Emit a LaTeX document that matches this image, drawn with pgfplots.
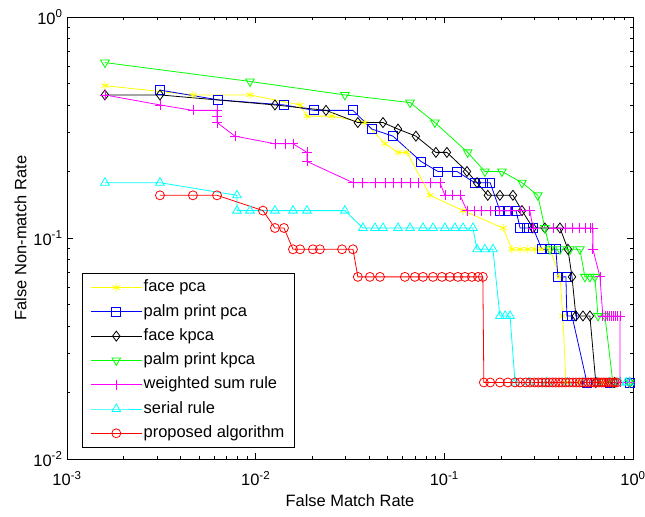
\documentclass[border=0pt]{standalone}
\usepackage{fontspec}
\setmainfont{Liberation Sans}
\usepackage{pgfplots}
\pgfplotsset{compat=1.18}

\definecolor{myyellow}{rgb}{1,1,0}
\definecolor{myblue}{rgb}{0,0,1}
\definecolor{mygreen}{rgb}{0,1,0}
\definecolor{mymagenta}{rgb}{1,0,1}
\definecolor{mycyan}{rgb}{0,1,1}
\definecolor{myred}{rgb}{1,0,0}

\begin{document}
\begin{tikzpicture}
\begin{axis}[
  scale only axis,
  width=566bp, height=442bp,
  xmode=log, ymode=log,
  xmin=1e-3, xmax=1, ymin=1e-2, ymax=1,
  xtick={1e-3,1e-2,1e-1,1},
  xticklabels={10\textsuperscript{-3},10\textsuperscript{-2},10\textsuperscript{-1},10\textsuperscript{0}},
  ytick={1e-2,1e-1,1},
  yticklabels={10\textsuperscript{-2},10\textsuperscript{-1},10\textsuperscript{0}},
  minor xtick={2e-3,3e-3,4e-3,5e-3,6e-3,7e-3,8e-3,9e-3,2e-2,3e-2,4e-2,5e-2,6e-2,7e-2,8e-2,9e-2,0.2,0.3,0.4,0.5,0.6,0.7,0.8,0.9},
  minor ytick={2e-2,3e-2,4e-2,5e-2,6e-2,7e-2,8e-2,9e-2,0.2,0.3,0.4,0.5,0.6,0.7,0.8,0.9},
  tick align=inside,
  major tick length=6bp, minor tick length=3.5bp,
  every tick/.style={black, line width=0.6bp},
  axis line style={black, line width=0.8bp},
  tick label style={font=\fontsize{16.5}{19}\selectfont},
  xticklabel style={yshift=-9bp},
  yticklabel style={xshift=-1bp},
  label style={font=\fontsize{16.5}{19}\selectfont},
  xlabel={False Match Rate},
  xlabel style={yshift=-2bp},
  ylabel={False Non-match Rate},
  ylabel style={yshift=0bp},
  every axis plot/.append style={line width=0.8bp, mark options={solid, line width=0.8bp, fill=none}},
  legend image code/.code={\draw[mark repeat=2,mark phase=2] plot coordinates {(0bp,0bp) (25.5bp,0bp) (51bp,0bp)};},
  legend style={at={(0.0265,0.025)}, anchor=south west, draw=black, line width=0.8bp,
    font=\fontsize{16.5}{19}\selectfont, row sep=5.8bp, inner xsep=8bp, inner ysep=5bp,
    nodes={inner sep=1.5bp, text height=12bp, text depth=3.5bp}},
  legend cell align=left,
]
% face pca
\addplot[color=myyellow, mark=asterisk, mark size=4bp] coordinates {
(0.00159,0.489)(0.00465,0.444)(0.00933,0.444)(0.0172,0.4)(0.0187,0.356)(0.0254,0.356)
(0.0380,0.333)(0.0485,0.267)(0.0568,0.244)(0.0634,0.244)(0.0840,0.156)(0.1256,0.133)
(0.205,0.111)(0.228,0.0889)(0.252,0.0889)(0.277,0.0889)(0.302,0.0889)(0.329,0.0889)
(0.363,0.0889)(0.410,0.0667)(0.425,0.0444)(0.441,0.0222)(0.523,0.0222)(0.70,0.0222)(0.96,0.0222)};
\addlegendentry{face pca}
% palm print pca
\addplot[color=myblue, mark=square, mark size=4.5bp] coordinates {
(0.00311,0.467)(0.00631,0.422)(0.01413,0.4)(0.0204,0.378)(0.0328,0.378)(0.0413,0.311)
(0.0534,0.289)(0.0752,0.222)(0.0925,0.2)(0.1167,0.2)(0.145,0.178)(0.160,0.178)(0.175,0.178)
(0.197,0.133)(0.217,0.133)(0.240,0.133)(0.252,0.111)(0.274,0.111)(0.295,0.111)
(0.329,0.0889)(0.363,0.0889)(0.390,0.0889)(0.400,0.0667)(0.441,0.0667)(0.446,0.0444)
(0.475,0.0444)(0.570,0.0222)(0.75,0.0222)(0.96,0.0222)};
\addlegendentry{palm print pca}
% face kpca
\addplot[color=black, mark=diamond, mark size=5bp] coordinates {
(0.00159,0.444)(0.00311,0.444)(0.01265,0.4)(0.0236,0.378)(0.0348,0.333)(0.0473,0.333)
(0.0568,0.311)(0.0707,0.289)(0.0902,0.244)(0.1032,0.244)(0.1318,0.2)(0.149,0.178)
(0.170,0.156)(0.197,0.156)(0.231,0.156)(0.258,0.133)(0.295,0.111)(0.341,0.111)(0.410,0.111)
(0.452,0.0889)(0.475,0.0667)(0.498,0.0444)(0.543,0.0444)(0.591,0.0444)(0.635,0.0222)
(0.80,0.0222)(0.96,0.0222)};
\addlegendentry{face kpca}
% palm print kpca
\addplot[color=mygreen, mark=triangle, mark size=5bp, mark options={rotate=180}] coordinates {
(0.00159,0.622)(0.00933,0.511)(0.0297,0.444)(0.0658,0.41)(0.0891,0.333)(0.133,0.244)
(0.164,0.2)(0.202,0.2)(0.258,0.178)(0.313,0.156)(0.341,0.111)(0.363,0.0889)(0.410,0.0889)
(0.463,0.0889)(0.523,0.0889)(0.556,0.0667)(0.591,0.0667)(0.628,0.0667)(0.652,0.0444)
(0.710,0.0444)(0.782,0.0222)(0.96,0.0222)};
\addlegendentry{palm print kpca}
% weighted sum rule
\addplot[color=mymagenta, mark=+, mark size=5bp] coordinates {
(0.00159,0.444)(0.00311,0.4)(0.00465,0.378)(0.00624,0.378)(0.00624,0.356)(0.00624,0.333)
(0.00777,0.289)(0.01265,0.267)(0.0143,0.267)(0.01577,0.267)(0.0187,0.244)(0.0187,0.222)
(0.0328,0.178)(0.0370,0.178)(0.0429,0.178)(0.0485,0.178)(0.0534,0.178)(0.0595,0.178)
(0.0658,0.178)(0.0727,0.178)(0.0840,0.178)(0.0948,0.178)(0.1007,0.156)(0.1097,0.156)
(0.121,0.156)(0.1318,0.133)(0.145,0.133)(0.158,0.133)(0.175,0.133)(0.197,0.133)(0.223,0.133)
(0.252,0.133)(0.284,0.133)(0.295,0.111)(0.38,0.111)(0.44,0.111)(0.48,0.111)(0.523,0.111)
(0.556,0.111)(0.591,0.111)(0.613,0.111)(0.613,0.0889)(0.668,0.0667)(0.692,0.0444)
(0.71,0.0444)(0.73,0.0444)(0.75,0.0444)(0.77,0.0444)(0.79,0.0444)(0.81,0.0444)(0.83,0.0444)
(0.853,0.0444)(0.853,0.0222)(0.96,0.0222)};
\addlegendentry{weighted sum rule}
% serial rule
\addplot[color=mycyan, mark=triangle, mark size=5bp] coordinates {
(0.00159,0.178)(0.00311,0.178)(0.00796,0.156)(0.00796,0.133)(0.00933,0.133)(0.01265,0.133)
(0.01577,0.133)(0.0187,0.133)(0.0297,0.133)(0.0370,0.111)(0.0429,0.111)(0.0473,0.111)
(0.0568,0.111)(0.0658,0.111)(0.0771,0.111)(0.0871,0.111)(0.1007,0.111)(0.1138,0.111)
(0.1256,0.111)(0.1418,0.111)(0.149,0.0889)(0.164,0.0889)(0.181,0.0889)(0.197,0.0444)
(0.210,0.0444)(0.223,0.0444)(0.237,0.0222)(0.28,0.0222)(0.35,0.0222)(0.45,0.0222)
(0.55,0.0222)(0.65,0.0222)(0.75,0.0222)(0.85,0.0222)(0.92,0.0222)(0.96,0.0222)};
\addlegendentry{serial rule}
% proposed algorithm
\addplot[color=myred, mark=o, mark size=4.5bp] coordinates {
(0.00311,0.156)(0.00465,0.156)(0.00624,0.156)(0.01093,0.133)(0.01265,0.111)(0.01413,0.111)
(0.01577,0.0889)(0.0172,0.0889)(0.0201,0.0889)(0.0219,0.0889)(0.0287,0.0889)(0.0328,0.0889)
(0.0348,0.0667)(0.0403,0.0667)(0.0456,0.0667)(0.0618,0.0667)(0.0698,0.0667)(0.0771,0.0667)
(0.0871,0.0667)(0.0971,0.0667)(0.107,0.0667)(0.118,0.0667)(0.1285,0.0667)(0.140,0.0667)
(0.151,0.0667)(0.160,0.0667)(0.162,0.0222)(0.175,0.0222)(0.197,0.0222)(0.217,0.0222)
(0.237,0.0222)(0.252,0.0222)(0.27,0.0222)(0.285,0.0222)(0.30,0.0222)(0.315,0.0222)
(0.33,0.0222)(0.345,0.0222)(0.36,0.0222)(0.375,0.0222)(0.39,0.0222)(0.405,0.0222)
(0.42,0.0222)(0.44,0.0222)(0.46,0.0222)(0.48,0.0222)(0.50,0.0222)(0.52,0.0222)(0.54,0.0222)
(0.56,0.0222)(0.58,0.0222)(0.60,0.0222)(0.62,0.0222)(0.64,0.0222)(0.66,0.0222)(0.68,0.0222)
(0.70,0.0222)(0.72,0.0222)(0.74,0.0222)(0.76,0.0222)(0.78,0.0222)(0.80,0.0222)(0.82,0.0222)};
\addlegendentry{proposed algorithm}
\coordinate (sw) at (rel axis cs:0,0);
\coordinate (ne) at (rel axis cs:1,1);
\end{axis}
\pgfresetboundingbox
\path ([xshift=-67bp,yshift=-58bp]sw) rectangle ([xshift=12bp,yshift=17bp]ne);
\end{tikzpicture}
\end{document}
